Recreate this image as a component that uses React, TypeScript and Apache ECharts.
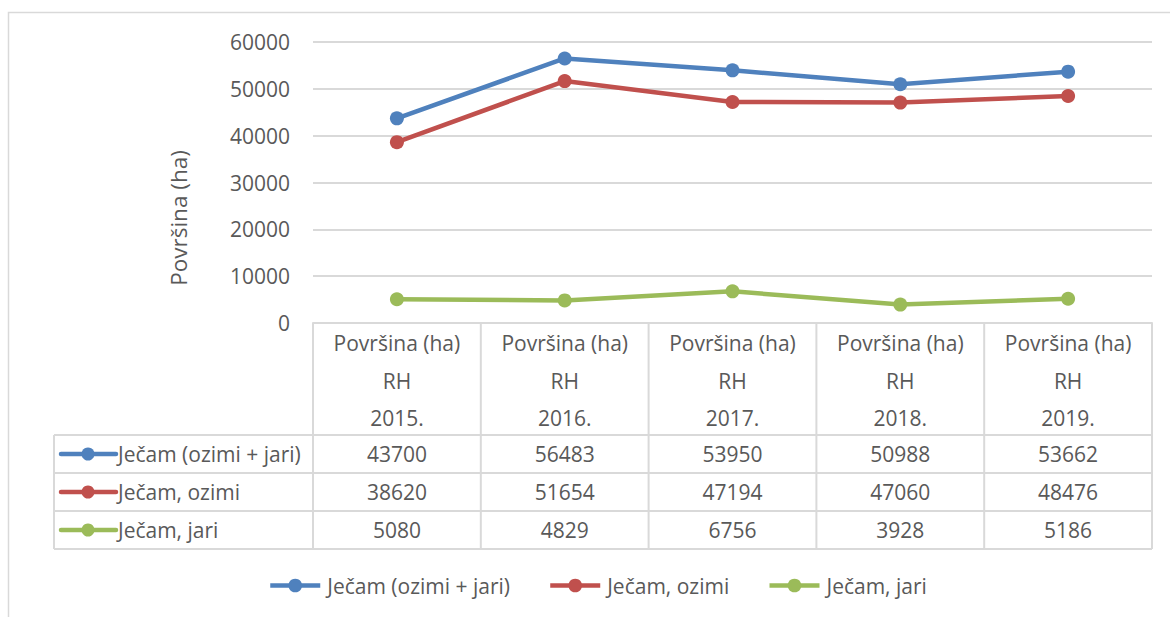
import React, { useEffect, useRef } from "react";
import * as echarts from "echarts";

const categories = ["2015.", "2016.", "2017.", "2018.", "2019."];
const headerLine1 = "Površina (ha)";
const headerLine2 = "RH";
const seriesNames = ["Ječam (ozimi + jari)", "Ječam, ozimi", "Ječam, jari"];
const totalValues = [43700, 56483, 53950, 50988, 53662];
const winterValues = [38620, 51654, 47194, 47060, 48476];
const springValues = [5080, 4829, 6756, 3928, 5186];
const seriesColors = ["#4f81bd", "#c0504d", "#9bbb59"];
const yAxisTitle = "Površina (ha)";
const yMin = 0;
const yMax = 60000;
const yInterval = 10000;

const FONT = "'Open Sans', 'Noto Sans', sans-serif";
const TEXT = "#595959";
const GRID_LINE = "#d9d9d9";

export default function App() {
  const ref = useRef<HTMLDivElement>(null);

  useEffect(() => {
    if (!ref.current) return;
    const chart = echarts.init(ref.current, undefined, { renderer: "svg" });
    const allValues = [totalValues, winterValues, springValues];

    const option: any = {
      animation: false,
      backgroundColor: "#ffffff",
      textStyle: { fontFamily: FONT },
      grid: { left: 313, right: 18, top: 42, bottom: 294, containLabel: false },
      xAxis: {
        type: "category",
        data: categories,
        boundaryGap: true,
        axisLabel: { show: false },
        axisTick: { show: false },
        axisLine: { show: true, lineStyle: { color: GRID_LINE, width: 2 } },
      },
      yAxis: {
        type: "value",
        min: yMin,
        max: yMax,
        interval: yInterval,
        axisLine: { show: false },
        axisTick: { show: false },
        axisLabel: {
          color: TEXT,
          fontSize: 21,
          fontFamily: FONT,
          margin: 23,
          formatter: (v: number) => String(v),
        },
        splitLine: { lineStyle: { color: GRID_LINE, width: 2 } },
      },
      legend: {
        left: 268,
        top: 575,
        padding: 0,
        itemWidth: 50,
        itemHeight: 17,
        itemGap: 38,
        lineStyle: { width: 4.5 },
        textStyle: { color: TEXT, fontSize: 21, fontFamily: FONT, padding: [0, 0, 0, 2] },
        data: seriesNames,
      },
      series: seriesNames.map((name, i) => ({
        name,
        type: "line",
        data: allValues[i],
        symbol: "circle",
        symbolSize: 14,
        color: seriesColors[i],
        itemStyle: { color: seriesColors[i] },
        lineStyle: { color: seriesColors[i], width: 4.5 },
      })),
    };
    chart.setOption(option);

    // Data table drawn under the plot, positioned from the axis scale
    const centers = categories.map((_, i) => chart.convertToPixel({ xAxisIndex: 0 }, i) as number);
    const half = (centers[1] - centers[0]) / 2;
    const tableLeft = 54;
    const colLeft = centers[0] - half;
    const colRight = centers[centers.length - 1] + half;
    const tableTop = chart.convertToPixel({ yAxisIndex: 0 }, yMin) as number;
    const headerBottom = 435;
    const rowH = 38;
    const headerYs = [343, 381, 418];

    const lineStyle = { stroke: GRID_LINE, lineWidth: 2 };
    const elements: any[] = [];

    // outer chart border
    elements.push({
      type: "rect",
      shape: { x: 8.5, y: 12.5, width: 1200, height: 700 },
      style: { fill: "none", stroke: GRID_LINE, lineWidth: 1.5 },
      silent: true,
    });

    // horizontal table lines
    for (let r = 0; r <= 3; r++) {
      const y = headerBottom + r * rowH;
      elements.push({ type: "line", shape: { x1: tableLeft, y1: y, x2: colRight, y2: y }, style: lineStyle, silent: true });
    }
    // vertical table lines
    elements.push({ type: "line", shape: { x1: tableLeft, y1: headerBottom, x2: tableLeft, y2: headerBottom + 3 * rowH }, style: lineStyle, silent: true });
    for (let c = 0; c <= categories.length; c++) {
      const x = colLeft + c * half * 2;
      elements.push({ type: "line", shape: { x1: x, y1: tableTop, x2: x, y2: headerBottom + 3 * rowH }, style: lineStyle, silent: true });
    }

    const txt = (x: number, y: number, text: string, align = "center") => ({
      type: "text",
      x,
      y,
      silent: true,
      style: { text, fill: TEXT, fontSize: 21, fontFamily: FONT, align, verticalAlign: "middle" },
    });

    // header texts
    categories.forEach((cat, i) => {
      elements.push(txt(centers[i], headerYs[0], headerLine1));
      elements.push(txt(centers[i], headerYs[1], headerLine2));
      elements.push(txt(centers[i], headerYs[2], cat));
    });

    // rows
    seriesNames.forEach((name, r) => {
      const yc = headerBottom + r * rowH + rowH / 2;
      elements.push({
        type: "line",
        shape: { x1: 61, y1: yc, x2: 116, y2: yc },
        style: { stroke: seriesColors[r], lineWidth: 4.5, lineCap: "round" },
        silent: true,
      });
      elements.push({ type: "circle", shape: { cx: 88, cy: yc, r: 6.5 }, style: { fill: seriesColors[r] }, silent: true });
      elements.push(txt(118, yc, name, "left"));
      allValues[r].forEach((v, i) => {
        elements.push(txt(centers[i], yc, String(v)));
      });
    });

    // y-axis title
    elements.push({
      type: "text",
      x: 178,
      y: 218,
      rotation: Math.PI / 2,
      silent: true,
      style: { text: yAxisTitle, fill: TEXT, fontSize: 22.5, fontFamily: FONT, align: "center", verticalAlign: "middle" },
    });

    chart.setOption({ graphic: { elements } });

    return () => chart.dispose();
  }, []);

  return (
    <div
      ref={ref}
      style={{ position: "fixed", left: 0, top: 0, width: 1170, height: 617, background: "#fff" }}
    />
  );
}
